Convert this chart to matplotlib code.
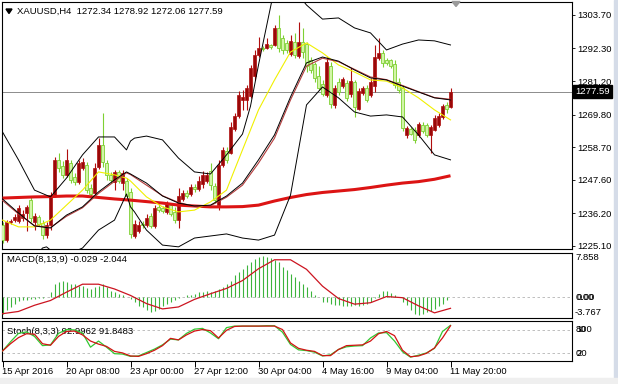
import matplotlib
matplotlib.use("Agg")
import matplotlib.pyplot as plt
from matplotlib.patches import Polygon, Rectangle
import numpy as np

plt.rcParams['font.family'] = ['Liberation Sans', 'DejaVu Sans']

# ---------------- data ----------------
symbol = "XAUUSD"
timeframe = "H4"

opens = [1232.2, 1227.1, 1233.3, 1233.9, 1233.6, 1234.6, 1236.3, 1240.7, 1233.3, 1234.9,
         1232.9, 1228.8, 1232.2, 1242.4, 1254.4, 1252.3, 1249.2, 1253.3, 1248.6, 1246.9,
         1251.6, 1252.7, 1244.8, 1243.1, 1252.0, 1259.5, 1253.3, 1249.2, 1246.9, 1250.3,
         1246.5, 1247.2, 1243.5, 1228.5, 1230.2, 1232.6, 1232.2, 1235.3, 1231.9, 1238.4,
         1238.0, 1236.7, 1239.0, 1236.7, 1233.9, 1241.1, 1243.1, 1242.8, 1245.2, 1244.5,
         1246.2, 1247.2, 1250.6, 1245.5, 1239.0, 1252.7, 1257.4, 1256.7, 1264.9, 1269.3,
         1274.8, 1274.8, 1276.1, 1282.9, 1290.1, 1292.5, 1292.5, 1293.5, 1293.5, 1299.3,
         1295.9, 1294.2, 1290.4, 1294.5, 1289.7, 1294.5, 1293.8, 1288.4, 1287.0, 1282.9,
         1280.2, 1276.5, 1286.3, 1273.1, 1280.9, 1279.5, 1280.6, 1276.8, 1280.9, 1271.7,
         1277.2, 1278.9, 1276.5, 1279.5, 1289.1, 1290.8, 1288.4, 1288.4, 1287.0, 1280.9,
         1278.9, 1262.9, 1264.9, 1264.6, 1262.9, 1266.3, 1266.3, 1262.9, 1264.6, 1266.3,
         1269.0, 1273.1, 1272.34]
highs = [1233.3, 1233.9, 1234.3, 1236.0, 1239.0, 1237.3, 1239.0, 1242.1, 1236.3, 1235.6,
         1233.9, 1233.3, 1243.5, 1255.4, 1256.7, 1254.0, 1258.1, 1254.4, 1249.9, 1254.4,
         1255.0, 1253.7, 1246.2, 1253.3, 1261.8, 1270.3, 1254.4, 1250.3, 1250.9, 1250.9,
         1250.9, 1248.2, 1244.8, 1233.9, 1233.6, 1233.6, 1236.0, 1236.3, 1239.0, 1239.7,
         1238.7, 1240.4, 1239.7, 1238.4, 1244.8, 1244.1, 1244.1, 1246.2, 1246.2, 1248.9,
         1250.6, 1250.3, 1253.3, 1246.5, 1254.4, 1258.8, 1258.8, 1267.3, 1270.3, 1277.8,
         1278.2, 1279.9, 1286.7, 1291.8, 1296.2, 1293.1, 1295.9, 1293.8, 1300.3, 1303.7,
         1296.9, 1295.2, 1296.9, 1297.6, 1301.3, 1299.3, 1294.5, 1289.4, 1287.7, 1286.3,
         1281.6, 1289.4, 1287.7, 1279.9, 1282.3, 1282.6, 1281.6, 1285.7, 1281.6, 1278.9,
         1279.5, 1279.9, 1282.3, 1293.5, 1295.9, 1291.8, 1289.1, 1288.7, 1288.4, 1282.3,
         1279.9, 1265.9, 1265.6, 1265.6, 1267.3, 1267.3, 1266.9, 1266.3, 1269.7, 1270.3,
         1273.4, 1274.1, 1278.92]
lows = [1226.1, 1226.4, 1232.6, 1233.3, 1232.9, 1233.6, 1230.2, 1233.3, 1230.5, 1231.9,
        1227.5, 1227.8, 1230.5, 1241.8, 1250.3, 1248.2, 1248.6, 1246.5, 1245.8, 1246.2,
        1250.9, 1243.1, 1241.8, 1242.4, 1251.3, 1252.0, 1247.5, 1246.5, 1244.1, 1246.5,
        1244.1, 1240.7, 1227.8, 1227.8, 1229.5, 1231.2, 1231.6, 1231.2, 1231.2, 1236.7,
        1236.3, 1236.0, 1235.3, 1232.9, 1231.2, 1240.4, 1241.4, 1242.1, 1243.5, 1243.8,
        1244.8, 1246.5, 1244.1, 1239.7, 1237.3, 1252.0, 1253.3, 1256.4, 1264.2, 1268.6,
        1271.4, 1271.4, 1275.5, 1281.6, 1289.4, 1291.4, 1292.1, 1292.1, 1293.1, 1291.1,
        1290.4, 1290.8, 1289.7, 1289.1, 1289.1, 1289.1, 1284.3, 1284.0, 1280.9, 1278.2,
        1276.1, 1275.8, 1272.0, 1272.0, 1276.5, 1278.9, 1274.4, 1275.8, 1269.0, 1271.4,
        1276.5, 1274.1, 1275.8, 1277.5, 1288.4, 1286.0, 1286.7, 1285.7, 1278.9, 1277.2,
        1264.2, 1261.8, 1262.9, 1260.1, 1262.2, 1263.5, 1262.2, 1256.7, 1264.2, 1265.6,
        1268.3, 1270.3, 1272.06]
closes = [1227.1, 1233.3, 1233.6, 1234.9, 1238.0, 1236.0, 1238.4, 1234.6, 1235.3, 1232.6,
          1228.8, 1232.2, 1242.4, 1254.4, 1251.6, 1249.2, 1254.4, 1247.5, 1246.9, 1253.3,
          1253.7, 1244.1, 1242.8, 1251.6, 1259.5, 1253.7, 1249.2, 1247.5, 1250.3, 1247.2,
          1249.9, 1242.1, 1229.2, 1232.6, 1232.2, 1232.2, 1234.6, 1231.9, 1238.0, 1237.3,
          1237.0, 1239.4, 1236.0, 1233.9, 1242.1, 1243.1, 1242.1, 1245.2, 1244.5, 1247.2,
          1249.2, 1249.2, 1245.8, 1240.7, 1252.7, 1257.8, 1254.4, 1265.6, 1269.3, 1276.5,
          1275.8, 1278.9, 1285.7, 1290.1, 1292.5, 1292.1, 1293.8, 1292.8, 1299.3, 1292.5,
          1291.8, 1291.8, 1294.8, 1290.1, 1294.5, 1291.1, 1286.3, 1285.0, 1282.3, 1278.9,
          1276.8, 1287.7, 1273.4, 1278.9, 1277.5, 1281.9, 1275.5, 1281.2, 1272.4, 1277.8,
          1278.9, 1274.8, 1280.9, 1289.4, 1290.8, 1287.4, 1287.4, 1286.3, 1279.9, 1278.2,
          1265.2, 1265.2, 1263.2, 1261.2, 1266.6, 1264.2, 1262.9, 1265.6, 1268.6, 1269.3,
          1272.7, 1271.7, 1277.59]

date_ticks = [0, 16, 32, 48, 64, 80, 96, 112]
date_labels = ["15 Apr 2016", "20 Apr 08:00", "23 Apr 00:00", "27 Apr 12:00",
               "30 Apr 04:00", "4 May 16:00", "9 May 04:00", "11 May 20:00"]
price_ticks = [1303.70, 1292.30, 1281.20, 1269.80, 1258.70, 1247.60, 1236.20, 1225.10]

# Bollinger bands and moving averages (bar index, price)
bb_upper_idx = [0, 4, 8, 12, 16, 20, 24, 28, 31, 32, 33, 36, 40, 44, 48, 52, 56, 60, 62, 64,
                68, 72, 76, 80, 84, 88, 92, 96, 100, 104, 108, 112]
bb_upper = [1263.9, 1254.4, 1244.1, 1241.8, 1248.2, 1256.1, 1262.2, 1262.2, 1257.8, 1260.8,
            1261.8, 1262.5, 1261.2, 1255.0, 1250.3, 1249.6, 1256.1, 1263.2, 1272.7, 1286.7,
            1312.9, 1313.9, 1307.1, 1302.3, 1302.7, 1299.3, 1297.6, 1291.8, 1293.8, 1295.2,
            1294.9, 1293.5]
bb_mid_idx = [0, 4, 8, 12, 16, 20, 24, 28, 31, 32, 36, 40, 44, 48, 52, 56, 60, 64, 68, 72,
              76, 80, 84, 88, 92, 96, 100, 104, 108, 112]
bb_mid = [1241.1, 1236.3, 1231.9, 1231.2, 1235.6, 1238.4, 1243.5, 1247.6, 1250.3, 1249.6,
          1246.5, 1242.1, 1239.7, 1238.7, 1239.0, 1242.1, 1246.5, 1254.4, 1262.9, 1275.8,
          1287.4, 1289.4, 1288.0, 1285.0, 1282.3, 1281.6, 1279.5, 1277.5, 1275.5, 1274.8]
bb_lower_idx = [0, 4, 8, 10, 11, 12, 14, 16, 20, 24, 28, 31, 32, 33, 36, 40, 44, 48, 52, 56,
                60, 64, 68, 72, 76, 80, 84, 88, 92, 96, 100, 104, 108, 112]
bb_lower = [1219.6, 1218.6, 1221.0, 1224.4, 1224.8, 1223.7, 1221.0, 1222.0, 1224.4, 1230.5,
            1233.9, 1242.8, 1238.4, 1236.7, 1230.5, 1225.4, 1224.8, 1227.8, 1228.5, 1229.2,
            1227.8, 1227.1, 1228.8, 1242.4, 1273.1, 1279.2, 1275.5, 1270.7, 1269.3, 1269.7,
            1269.0, 1262.9, 1256.1, 1254.4]
ma_red_idx = bb_mid_idx
ma_red = [1240.6, 1236.0, 1232.0, 1231.4, 1235.2, 1238.1, 1243.0, 1247.1, 1250.0, 1249.4,
          1245.8, 1242.2, 1239.9, 1238.6, 1238.8, 1241.7, 1245.8, 1253.3, 1261.8, 1274.8,
          1286.3, 1289.0, 1287.8, 1285.2, 1282.6, 1281.7, 1279.7, 1277.6, 1275.6, 1275.0]
ma_yellow_idx = [0, 4, 8, 12, 16, 20, 24, 28, 31, 32, 36, 40, 44, 48, 52, 56, 58, 60, 64, 68,
                 72, 76, 80, 84, 88, 92, 96, 100, 104, 108, 112]
ma_yellow = [1233.9, 1231.6, 1231.6, 1233.9, 1239.0, 1244.1, 1250.3, 1249.3, 1248.2, 1247.2,
             1241.8, 1238.4, 1236.7, 1237.3, 1240.1, 1244.1, 1251.0, 1257.8, 1271.4, 1281.6,
             1291.1, 1294.2, 1290.8, 1286.7, 1284.3, 1281.6, 1281.2, 1278.9, 1275.5, 1271.4,
             1268.0]
ma_slow_idx = [0, 4, 8, 12, 16, 20, 24, 28, 32, 36, 40, 44, 48, 52, 56, 60, 64, 68, 72, 76,
               80, 84, 88, 92, 96, 100, 104, 108, 112]
ma_slow = [1241.4, 1241.6, 1241.8, 1241.9, 1242.1, 1242.1, 1241.6, 1241.1, 1240.7, 1240.2,
           1239.7, 1239.0, 1238.7, 1238.4, 1238.4, 1238.5, 1239.0, 1240.4, 1241.6, 1242.6,
           1243.3, 1243.8, 1244.3, 1245.0, 1245.8, 1246.5, 1247.0, 1247.8, 1249.0]

# MACD(8,13,9)
macd_hist = [-3.0, -2.4, -1.8, -1.2, -0.8, -0.65, -0.5, -0.4, -0.3, -0.2,
             -0.15, -0.05, 0.8, 2.3, 2.6, 2.9, 2.7, 2.3, 2.3, 2.0,
             2.0, 1.5, 1.4, 1.7, 2.0, 2.2, 1.7, 1.1, 0.85, 0.5,
             0.25, 0.05, -0.4, -0.95, -1.55, -1.85, -2.4, -2.7, -2.6, -2.1,
             -1.55, -1.3, -0.95, -0.5, -0.15, -0.05, 0.24, 0.35, 0.5, 0.8,
             0.8, 1.0, 0.95, 1.1, 1.4, 1.7, 2.3, 2.9, 3.8, 4.4,
             5.0, 5.6, 6.2, 6.8, 7.1, 7.3, 7.1, 6.9, 6.5, 6.2,
             5.3, 4.7, 4.1, 3.5, 2.9, 2.3, 1.7, 1.1, 0.25, 0.0,
             -0.95, -0.85, -1.25, -1.4, -1.4, -1.55, -1.55, -1.55, -1.4, -1.55,
             -1.4, -1.25, -0.85, -0.2, 0.5, 1.0, 1.1, 0.7, 0.25, -0.1,
             -0.95, -1.5, -2.4, -3.0, -3.3, -3.0, -2.7, -2.6, -2.1, -1.55,
             -1.3, -0.65, -0.029]
macd_sig_idx = list(range(0, 113, 4))
macd_sig = [-3.0, -2.6, -1.5, -0.65, 0.84, 2.25, 2.25, 1.4, 0.25, -1.2,
            -2.15, -1.8, -0.45, 0.55, 1.5, 2.9, 5.0, 6.6, 6.6, 4.9,
            1.9, -0.3, -1.3, -1.05, 0.05, -0.15, -1.6, -2.85, -2.044]
macd_max, macd_min = 7.858, -3.767

# Stochastic(8,3,3)
stoch_idx = list(range(0, 113, 2))
stoch_main = [26, 50, 72, 76, 64, 40, 42, 72, 82, 81, 73, 36, 52, 36, 19, 18, 12, 13, 22, 31,
              42, 57, 55, 72, 83, 85, 73, 58, 87, 91, 91, 91, 91, 92, 92, 75, 43, 29, 27, 23,
              13, 16, 30, 37, 39, 40, 60, 73, 74, 52, 24, 10, 15, 21, 33, 77, 92.9962]
stoch_sig = [26, 45, 61, 71, 70, 45, 41, 64, 77, 78, 68, 52, 44, 38, 25, 21, 13, 12, 19, 28,
             40, 59, 55, 68, 78, 82, 79, 60, 80, 90, 91, 91, 91, 91, 91, 82, 47, 33, 28, 25,
             14, 14, 30, 40, 41, 42, 52, 71, 77, 66, 28, 11, 13, 20, 34, 60, 91.8483]

# ---------------- drawing ----------------
W, H = 618, 384
fig = plt.figure(figsize=(W / 100, H / 100), dpi=100)
fig.patch.set_facecolor('white')


def box(x0, y0, x1, y1):
    return [x0 / W, 1 - y1 / H, (x1 - x0) / W, (y1 - y0) / H]


def ftxt(x, y, s, **kw):
    kw.setdefault('fontsize', 6.8)
    kw.setdefault('va', 'center')
    return fig.text(x / W, 1 - y / H, s, **kw)


XL = (-0.125, 142.375)
ax = fig.add_axes(box(2, 2, 572, 249))
axm = fig.add_axes(box(2, 252.7, 572, 318))
axs = fig.add_axes(box(2, 321, 572, 360.5))

for a in (ax, axm, axs):
    a.set_xlim(*XL)
    a.set_facecolor('white')
    for sp in a.spines.values():
        sp.set_color('black')
        sp.set_linewidth(0.8)
    a.set_xticks([])
    a.set_yticks([])

# ---- main chart ----
ax.set_ylim(1224.07, 1308.12)
idx = np.arange(len(closes))
o = np.array(opens); h = np.array(highs); l = np.array(lows); c = np.array(closes)
up = c >= o
RED_F, RED_E = '#9a0808', '#b00e0e'
GRN_F, GRN_E = '#d2f5a8', '#7ed032'

ax.axhline(closes[-1], color='#8c8c8c', lw=0.7, zorder=1)

ax.vlines(idx[up], l[up], h[up], colors=RED_E, lw=0.8, zorder=3)
ax.vlines(idx[~up], l[~up], h[~up], colors=GRN_E, lw=0.8, zorder=3)
body_u = np.maximum(c[up] - o[up], 0.25)
body_d = np.maximum(o[~up] - c[~up], 0.25)
ax.bar(idx[up], body_u, bottom=o[up], width=0.6, color=RED_F, edgecolor=RED_E,
       linewidth=0.5, zorder=4)
ax.bar(idx[~up], body_d, bottom=c[~up], width=0.6, color=GRN_F, edgecolor=GRN_E,
       linewidth=0.6, zorder=4)

ax.plot(ma_slow_idx, ma_slow, color='#dc1414', lw=2.2, zorder=5, solid_capstyle='butt')
ax.plot(ma_yellow_idx, ma_yellow, color='#f0f000', lw=0.8, zorder=5)
ax.plot(ma_red_idx, ma_red, color='#b43c3c', lw=0.8, zorder=5)
ax.plot(bb_mid_idx, bb_mid, color='black', lw=0.7, zorder=5)
ax.plot(bb_upper_idx, bb_upper, color='black', lw=0.7, zorder=5)
ax.plot(bb_lower_idx, bb_lower, color='black', lw=0.7, zorder=5)

ax.yaxis.tick_right()
ax.set_yticks(price_ticks)
ax.set_yticklabels([f"{v:.2f}" for v in price_ticks])
ax.tick_params(axis='y', length=2, width=0.6, labelsize=6.8, pad=1.5, colors='black')

ax.text(1.0 + 3 / 570, closes[-1], f"{closes[-1]:.2f}", transform=ax.get_yaxis_transform(),
        color='white', fontsize=6.8, va='center', ha='left', zorder=10,
        bbox=dict(boxstyle='square,pad=0.2', fc='black', ec='black'), clip_on=False)

# title
tri = Polygon([[6 / W, 1 - 9 / H], [12 / W, 1 - 9 / H], [9 / W, 1 - 13.5 / H]],
              closed=True, transform=fig.transFigure, color='black')
fig.add_artist(tri)
ftxt(17, 11, f"{symbol},{timeframe}  {opens[-1]:.2f} {highs[-1]:.2f} {lows[-1]:.2f} {closes[-1]:.2f}")
shift = Polygon([[452 / W, 1 - 1.5 / H], [460 / W, 1 - 1.5 / H], [456 / W, 1 - 6.5 / H]],
                closed=True, transform=fig.transFigure, color='#9a9a9a')
fig.add_artist(shift)

# ---- MACD ----
axm.set_ylim(macd_min, macd_max)
axm.axhline(0, color='#b4b4b4', lw=0.6, ls=(0, (3, 3)), zorder=1)
axm.vlines(idx, 0, macd_hist, colors='#3cb43c', lw=0.8, zorder=2)
axm.plot(macd_sig_idx, macd_sig, color='#cc1420', lw=0.9, zorder=3)
ftxt(7, 260, f"MACD(8,13,9) {macd_hist[-1]:.3f} {macd_sig[-1]:.3f}")
ftxt(575.5, 257.5, f"{macd_max:.3f}")
ftxt(575.5, 297.3, "0.00")
ftxt(576.5, 297.3, "0.00")
ftxt(575, 312.5, f"{macd_min:.3f}")

# ---- Stochastic ----
axs.set_ylim(1.2, 104.3)
for lv in (80, 20):
    axs.axhline(lv, color='#b4b4b4', lw=0.6, ls=(0, (3, 3)), zorder=1)
axs.text((7 - 2) / 570, 0.74, f"Stoch(8,3,3) {stoch_main[-1]:.4f} {stoch_sig[-1]:.4f}",
         transform=axs.transAxes, fontsize=6.8, va='center', ha='left', zorder=1)
axs.plot(stoch_idx, stoch_main, color='#32c832', lw=0.9, zorder=3)
axs.plot(stoch_idx, stoch_sig, color='#d21414', lw=0.9, zorder=4)
# MT4 draws the 100/80 and 20/0 scale labels on top of each other here
ftxt(576, 329, "100")
ftxt(576, 330, "80")
ftxt(576, 354, "20")
ftxt(576, 354, "0")

axs.set_xticks(date_ticks)
axs.set_xticklabels(date_labels)
axs.tick_params(axis='x', length=4.5, width=0.7, labelsize=6.8, pad=0.3, colors='black')
for lbl in axs.get_xticklabels():
    lbl.set_ha('left')

# window chrome strips
fig.add_artist(Rectangle((614 / W, 0), 4 / W, 1, transform=fig.transFigure,
                         color='#d5dce8', zorder=0))
fig.add_artist(Rectangle((0, 0), 1, 6.5 / H, transform=fig.transFigure,
                         color='#efefef', zorder=0))

fig.savefig("out.png", dpi=100)
